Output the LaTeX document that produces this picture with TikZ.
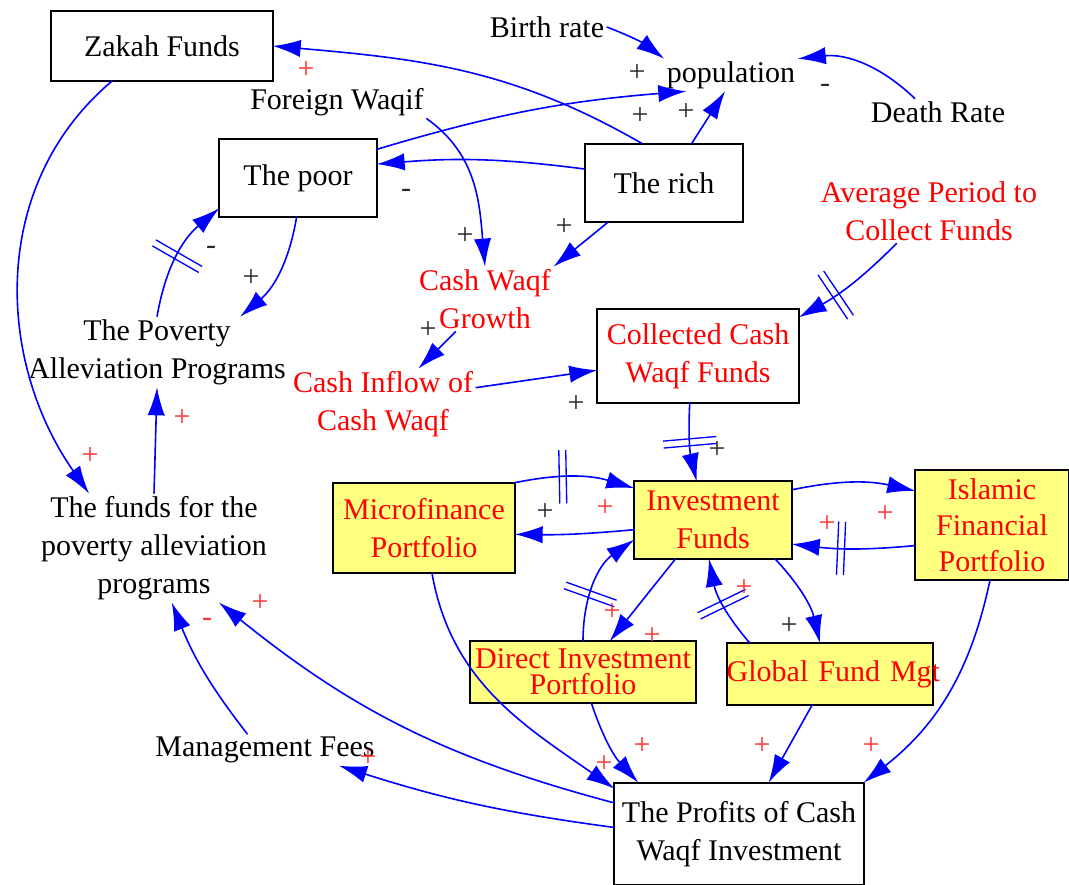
\documentclass[tikz,border=0pt]{standalone}
\usepackage{fontspec}
\setmainfont{Liberation Serif}
\newcommand*{\cldfont}{\fontsize{22.5}{28.5}\selectfont}
\definecolor{flow}{RGB}{0,0,255}
\definecolor{hot}{RGB}{255,0,0}
\definecolor{plusred}{RGB}{255,48,48}
\definecolor{ink}{RGB}{40,40,40}
\definecolor{pad}{RGB}{255,255,128}
\usetikzlibrary{arrows.meta}
\usetikzlibrary{decorations.markings}
\tikzstyle{base}=[x=0.75pt, y=0.75pt, inner sep=0pt, outer sep=0pt]
\tikzstyle{var}=[align=center, inner sep=2pt]
\tikzstyle{box}=[draw=black, line width=1.3pt, align=center, inner sep=0pt]
\tikzstyle{portfolio}=[box, fill=pad, text=hot]
\tikzstyle{link}=[draw=flow, line width=1.2pt, -{Latex[length=21pt,width=13pt]}]
\tikzstyle{sign}=[inner sep=0pt]
\tikzset{delaymark/.style={postaction={decorate}, decoration={markings, mark=at position #1 with {\draw[flow, line width=1pt, -] (-2.6pt,-20pt) -- (-2.6pt,20pt) (2.6pt,-20pt) -- (2.6pt,20pt);}}}}

\begin{document}
\begin{tikzpicture}[base]
    \cldfont
    \path [use as bounding box] (0,0) rectangle (1069,-884);
    \node [box, minimum width=166pt, minimum height=52pt] (zakah) at (162,-46) {Zakah Funds};
    \node [var] (birth) at (547,-27) {Birth rate};
    \node [var] (pop) at (731,-75) {population};
    \node [var] (death) at (938,-112) {Death Rate};
    \node [var] (foreign) at (337,-102) {Foreign Waqif};
    \node [box, minimum width=118pt, minimum height=58pt] (poor) at (298,-178) {The poor};
    \node [box, minimum width=119pt, minimum height=59pt] (rich) at (664,-183) {The rich};
    \node [var, text=hot] (avg) at (929,-211) {Average Period to\\Collect Funds};
    \node [var, text=hot] (growth) at (485,-299) {Cash Waqf\\Growth};
    \node [box, text=hot, minimum width=151pt, minimum height=70pt] (collected) at (698,-356) {Collected Cash\\Waqf Funds};
    \node [var] (poverty) at (157,-352) {The Poverty\\Alleviation Programs};
    \node [var, text=hot] (inflow) at (383,-404) {Cash Inflow of\\Cash Waqf};
    \node [portfolio, minimum width=136pt, minimum height=68pt] (micro) at (424,-528) {Microfinance\\Portfolio};
    \node [portfolio, minimum width=118pt, minimum height=58pt] (invest) at (713,-520) {Investment\\Funds};
    \node [portfolio, minimum width=115pt, minimum height=82pt, font=\fontsize{22.5}{27}\selectfont] (islamic) at (992,-525) {Islamic\\Financial\\Portfolio};
    \node [var] (funds) at (154,-548) {The funds for the\\poverty alleviation\\programs};
    \node [portfolio, minimum width=169pt, minimum height=46pt, font=\fontsize{22.5}{19.5}\selectfont] (direct) at (583,-672) {Direct Investment\\Portfolio};
    \node [portfolio, minimum height=46pt, text width=155pt] (global) at (830,-674) {\mbox{Global Fund Mgt}};
    \node [box, minimum width=187pt, minimum height=77pt] (profits) at (739,-834) {The Profits of Cash\\Waqf Investment};
    \node [var] (mgmt) at (265,-750) {Management Fees};

    \draw [link] (birth.east) to[bend left=8] (pop.north west);
    \draw [link] (death.150) to[bend right=25] (pop.north east);
    \draw [link] (rich.55) -- (pop.250);
    \draw [link] (poor.20) to[bend left=6] (pop.200);
    \draw [link] (rich.119) to[out=150, in=-5] (zakah.east);
    \draw [link] (rich.170) to[bend right=6] (poor.10);
    \draw [link] (rich.215) -- (growth.north east);
    \draw [link] (foreign.south east) to[out=-35, in=95] (growth.north);
    \draw [link] (growth.228) -- (inflow.45);
    \draw [link] (inflow.10) -- (collected.188);
    \draw [link, delaymark=0.65] (avg.225) to[bend left=8] (collected.21);
    \draw [link, delaymark=0.5] (collected.260) to[bend right=8] (invest.113);
    \draw [link, delaymark=0.4] (micro.north east) to[bend left=14] (invest.158);
    \draw [link] (invest.187) to[bend left=3] (micro.-4);
    \draw [link] (invest.21) to[bend left=12] (islamic.156);
    \draw [link, delaymark=0.6] (islamic.195) to[bend left=6] (invest.-17);
    \draw [link] (invest.226) -- (direct.49);
    \draw [link, delaymark=0.4] (direct.north) to[out=90, in=215] (invest.194);
    \draw [link] (invest.-32) to[bend left=15] (global.108);
    \draw [link, delaymark=0.5] (global.159) to[bend left=15] (invest.264);
    \draw [link] (micro.-80) to[out=-80, in=145] (profits.160);
    \draw [link] (direct.-75) to[bend right=12] (profits.153);
    \draw [link] (global.240) -- (profits.60);
    \draw [link] (islamic.-92) to[bend left=20] (profits.north east);
    \draw [link] (profits.166) to[bend left=12] (funds.-40);
    \draw [link] (profits.177) to[bend left=5] (mgmt.-12);
    \draw [link] (mgmt.138) to[bend left=8] (funds.288);
    \draw [link] (funds.north) -- (poverty.south);
    \draw [link, delaymark=0.5] (poverty.north) to[bend left=20] (poor.201);
    \draw [link] (poor.-92) to[bend left=20] (poverty.23);
    \draw [link] (zakah.215) to[out=220, in=125] (funds.140);

    \foreach \x/\y [count=\k] in {637/73, 640/116, 686/112, 465/236, 564/227, 251/278, 428/330, 576/404, 717/450, 545/512, 789/626}
        \node [sign, text=ink] (pk\k) at (\x,-\y) {+};
    \foreach \x/\y [count=\k] in {306/70, 182/418, 90/456, 605/508, 827/524, 885/514, 744/588, 612/612, 652/636, 260/603, 368/758, 642/746, 604/764, 762/746, 871/746}
        \node [sign, text=plusred] (pr\k) at (\x,-\y) {+};
    \foreach \x/\y [count=\k] in {825/88, 406/193, 211/250}
        \node [sign, text=ink] (mk\k) at (\x,-\y) {-};
    \node [sign, text=plusred] (mr1) at (207,-622) {-};
\end{tikzpicture}
\end{document}
